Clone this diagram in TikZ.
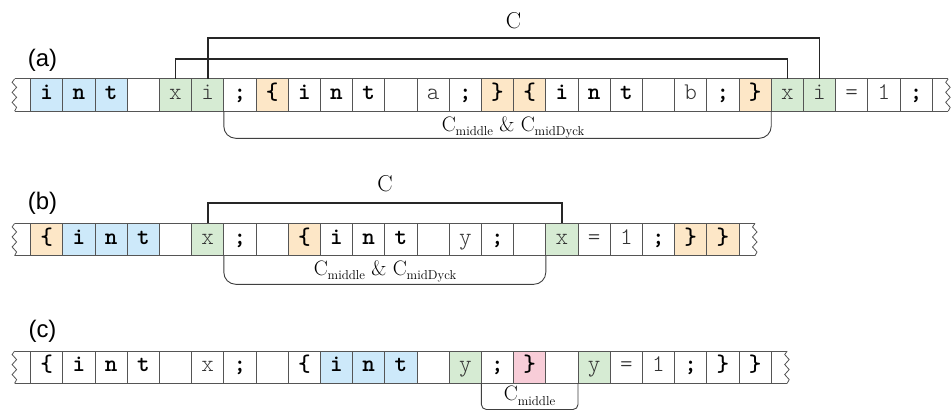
\documentclass[tikz,border=0pt]{standalone}
\usepackage{fontspec}
\setsansfont{Liberation Sans}
\newfontfamily\mono{Latin Modern Mono Light}
\usetikzlibrary{calc}

\definecolor{kwblue}{HTML}{CDE9FA}
\definecolor{idgreen}{HTML}{D6EBD3}
\definecolor{brorange}{HTML}{FDE7C7}
\definecolor{brpink}{HTML}{F8CDD8}
\definecolor{edge}{HTML}{555555}

\tikzset{
  cell/.style={draw=edge, line width=0.8bp, minimum width=32.2bp, minimum height=32.3bp,
    inner sep=0pt, outer sep=0pt, text height=9bp, text depth=0bp},
  p/.style={font=\mono\fontsize{24}{24}\selectfont, text=black!80},
  b/.style={font=\mono\bfseries\fontsize{24}{24}\selectfont, text=black},
  kb/.style={b, fill=kwblue},
  g/.style={p, fill=idgreen},
  ob/.style={b, fill=brorange},
  pb/.style={b, fill=brpink},
  tape/.style={draw=edge, line width=0.8bp},
  link/.style={line width=1.6bp, draw=black!85},
  span/.style={line width=0.9bp, draw=black!75, rounded corners=#1},
  span/.default=12bp,
  rowlabel/.style={font=\sffamily\fontsize{24}{24}\selectfont},
  biglabel/.style={font=\fontsize{23}{23}\selectfont},
  sublabel/.style={anchor=base, inner sep=0pt, font=\fontsize{21}{21}\selectfont}
}

% one row of token cells: name prefix, centre y, list of text/style
\newcommand\tokrow[3]{%
  \foreach [count=\k] \t/\s in {#3} {%
    \node[cell,\s] (#1\k) at ({30.6+(\k-0.5)*32.2},#2) {\t};
  }%
}
% torn tape end: a short zigzag going down from the given coordinate
\newcommand\tornend[1]{%
  \draw[tape] (#1) -- ++(-2.5,3.5) -- ++(4.5,5) -- ++(-4.5,5) -- ++(4.5,5)
    -- ++(-4.5,5) -- ++(4.5,5) -- ++(-2,3.8);
}
\newcommand\sub[1]{\raisebox{-4.5bp}{\fontsize{13}{13}\selectfont #1}}

\begin{document}
\begin{tikzpicture}[x=1bp,y=-1bp]
\useasboundingbox (0,0) rectangle (951,412);
\fill[white] (0,0) rectangle (951,412);

% ---------------- row (a)
\tokrow{a}{95}{i/kb, n/kb, t/kb, {}/p, x/g, i/g, ;/b, \{/ob, i/b, n/b, t/b, {}/p, a/p, ;/b, \}/ob, \{/ob, i/b, n/b, t/b, {}/p, b/p, ;/b, \}/ob, x/g, i/g, =/p, 1/p, ;/b}
\coordinate (aL) at ($(a1.north west)+(-16,0)$);
\coordinate (aR) at ($(a28.north east)+(16,0)$);
\draw[tape] (a1.north west) -- (aL) (a1.south west) -- (aL |- a1.south);
\draw[tape] (a28.north east) -- (aR) (a28.south east) -- (aR |- a28.south);
\tornend{aL}
\tornend{aR}

\node[rowlabel] (la) at (42.5,60) {(a)};
\draw[link] (a6.north) -- (a6.north |- 0,37.7) -| (a25.north);
\draw[link] (a5.north) -- (a5.north |- 0,58.7) -| (a24.north);
\node[biglabel] (ca) at (513.5,21) {C};
\draw[span] (a7.south west) -- (a7.south west |- 0,138.3) -| (a23.south east);
\node[sublabel] (ma) at (513,131) {C\sub{middle} \& C\sub{midDyck}};

% ---------------- row (b)
\tokrow{b}{239.6}{\{/ob, i/kb, n/kb, t/kb, {}/p, x/g, ;/b, {}/p, \{/ob, i/b, n/b, t/b, {}/p, y/p, ;/b, {}/p, x/g, =/p, 1/p, ;/b, \}/ob, \}/ob}
\coordinate (bL) at ($(b1.north west)+(-16,0)$);
\coordinate (bR) at ($(b22.north east)+(16,0)$);
\draw[tape] (b1.north west) -- (bL) (b1.south west) -- (bL |- b1.south);
\draw[tape] (b22.north east) -- (bR) (b22.south east) -- (bR |- b22.south);
\tornend{bL}
\tornend{bR}

\node[rowlabel] (lb) at (42.5,203.5) {(b)};
\draw[link] (b6.north) -- (b6.north |- 0,202.7) -| (b17.north);
\node[biglabel] (cb) at (385,184) {C};
\draw[span] (b7.south west) -- (b7.south west |- 0,284.3) -| (b16.south east);
\node[sublabel] (mb) at (385,275) {C\sub{middle} \& C\sub{midDyck}};

% ---------------- row (c)
\tokrow{c}{367.2}{\{/b, i/b, n/b, t/b, {}/p, x/p, ;/b, {}/p, \{/b, i/kb, n/kb, t/kb, {}/p, y/g, ;/b, \}/pb, {}/p, y/g, =/p, 1/p, ;/b, \}/b, \}/b}
\coordinate (cL) at ($(c1.north west)+(-16,0)$);
\coordinate (cR) at ($(c23.north east)+(16,0)$);
\draw[tape] (c1.north west) -- (cL) (c1.south west) -- (cL |- c1.south);
\draw[tape] (c23.north east) -- (cR) (c23.south east) -- (cR |- c23.south);
\tornend{cL}
\tornend{cR}

\node[rowlabel] (lc) at (42.5,331.5) {(c)};
\draw[span=5bp] (c15.south west) -- (c15.south west |- 0,409.5) -| (c17.south east);
\node[sublabel] (mc) at (529.5,400.7) {C\sub{middle}};
\end{tikzpicture}
\end{document}
